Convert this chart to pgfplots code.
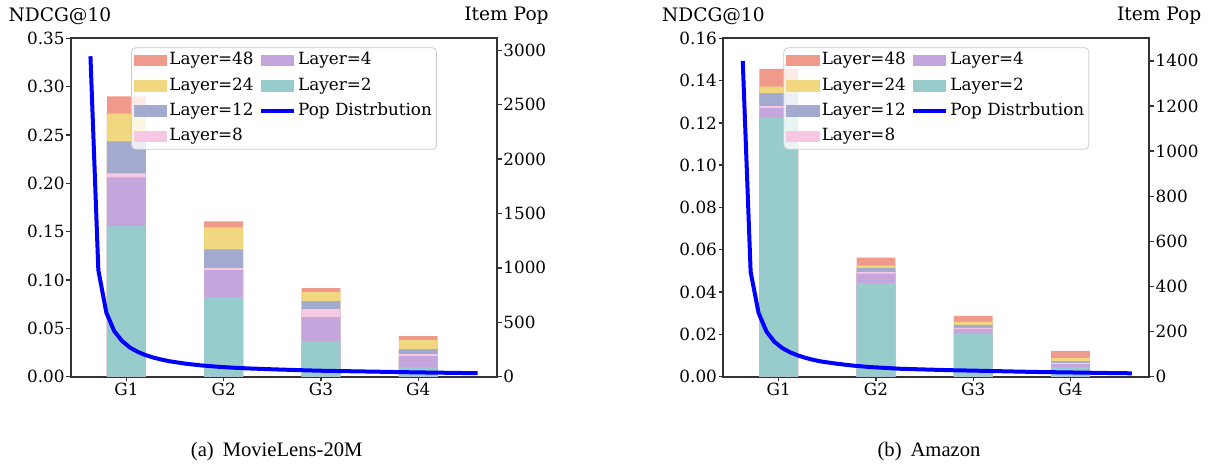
\documentclass[border=0pt]{standalone}
\usepackage{pgfplots}
\usepackage{pgfplotstable}
\pgfplotsset{compat=1.18}
\usepackage{fontspec}
\setmainfont{DejaVu Serif}
\newfontfamily\capfont{Liberation Serif}
\definecolor{c48}{HTML}{F09A8C}
\definecolor{c24}{HTML}{F1D880}
\definecolor{c12}{HTML}{A2AAD0}
\definecolor{c8}{HTML}{F6C8E4}
\definecolor{c4}{HTML}{C4A6DC}
\definecolor{c2}{HTML}{98CCCC}
\definecolor{frame}{HTML}{333333}

\pgfplotstableread{
x l48 l24 l12 l8 l4 l2
0 0.2900 0.2722 0.2433 0.2103 0.2061 0.1559
1 0.1607 0.1545 0.1318 0.1122 0.1101 0.0823
2 0.0915 0.0874 0.0781 0.0699 0.0616 0.0368
3 0.0420 0.0379 0.0286 0.0234 0.0213 0.0100
}\mlbars
\pgfplotstableread{
x l48 l24 l12 l8 l4 l2
0 0.1455 0.1372 0.1341 0.1279 0.1270 0.1222
1 0.0563 0.0525 0.0515 0.0496 0.0487 0.0443
2 0.0288 0.0259 0.0245 0.0231 0.0226 0.0203
3 0.0122 0.0088 0.0074 0.0065 0.0060 0.0045
}\azbars
\pgfplotstableread{
x y
-0.370 2945
-0.289 980
-0.207 590
-0.126 420
-0.045 328
0.036 268
0.117 228
0.198 198
0.280 175
0.361 157
0.442 142
0.605 120
0.767 104
0.930 92
1.092 83
1.254 76
1.498 68
1.742 61
1.985 55
2.310 50
2.635 45
2.960 40
3.284 36
3.610 32
}\mlpop
\pgfplotstableread{
x y
-0.370 1400
-0.289 465
-0.207 282
-0.126 200
-0.045 155
0.036 127
0.117 108
0.198 94
0.280 83
0.361 74
0.442 67
0.605 57
0.767 49
0.930 43
1.092 39
1.254 35
1.498 32
1.742 29
1.985 27
2.310 24
2.635 21
2.960 19
3.284 17
3.630 15
}\azpop

\pgfplotsset{
 base/.style={
   scale only axis, width=213pt, height=169.2pt,
   xmin=-0.57, xmax=3.81, ymin=0,
   font=\fontsize{8.4pt}{10pt}\selectfont,
   axis line style={frame, line width=0.9pt},
   tick style={frame, line width=0.7pt},
   tick align=outside, major tick length=2.4pt,
   /pgf/number format/assume math mode=true,
   yticklabel style={inner xsep=0.6pt},
   xticklabel style={inner ysep=0.6pt},
   anchor=south west,
 },
 bars/.style={base, ybar, bar width=0.4, bar shift=0pt,
   xtick={0,1,2,3}, xticklabels={G1,G2,G3,G4}, xtick pos=bottom, ytick pos=left,
   yticklabel style={/pgf/number format/.cd, fixed, fixed zerofill, precision=2},
 },
 pop/.style={base, axis y line*=right, axis x line=none, scaled y ticks=false,
   yticklabel style={/pgf/number format/1000 sep={}},
   legend columns=2, legend cell align=left,
   legend style={at={(0.5,0.973)}, anchor=north, draw=black!20, rounded corners=2pt,
     fill=white, fill opacity=0.8, text opacity=1, inner xsep=1.3pt, inner ysep=1.3pt,
     row sep=2.7pt, nodes={inner sep=1pt, text height=6.1pt, text depth=1.9pt},
     /tikz/every even column/.append style={column sep=1.6pt}},
 },
 legbar/.style={legend image code/.code={\fill[##1, fill opacity=1, draw=none, sharp corners] (0pt,-2.9pt) rectangle (16.7pt,2.9pt);}},
 legline/.style={legend image code/.code={\draw[##1, draw opacity=1, sharp corners] (0pt,0pt) -- (16.7pt,0pt);}},
}

\begin{document}
\begin{tikzpicture}
\path[use as bounding box] (0,0) rectangle (606pt,232.5pt);

% ---------- (a) MovieLens-20M ----------
\begin{axis}[bars, at={(35.5pt,44.15pt)}, ymax=0.35, ytick={0,0.05,...,0.351}]
\addplot[fill=c48, draw=none] table[x=x,y=l48]{\mlbars};
\addplot[fill=c24, draw=none] table[x=x,y=l24]{\mlbars};
\addplot[fill=c12, draw=none] table[x=x,y=l12]{\mlbars};
\addplot[fill=c8, draw=none] table[x=x,y=l8]{\mlbars};
\addplot[fill=c4, draw=none] table[x=x,y=l4]{\mlbars};
\addplot[fill=c2, draw=none] table[x=x,y=l2]{\mlbars};
\end{axis}
\begin{axis}[pop, at={(35.5pt,44.15pt)}, ymax=3110, ytick={0,500,...,3000}]
\addlegendimage{legbar, fill=c48}
\addlegendimage{legbar, fill=c4}
\addlegendimage{legbar, fill=c24}
\addlegendimage{legbar, fill=c2}
\addlegendimage{legbar, fill=c12}
\addplot[blue, line width=2pt, legline] table[x=x,y=y]{\mlpop};
\addlegendimage{legbar, fill=c8}
\legend{Layer=48, Layer=4, Layer=24, Layer=2, Layer=12, Pop Distrbution, Layer=8}
\end{axis}

% ---------- (b) Amazon ----------
\begin{axis}[bars, at={(361.65pt,44.15pt)}, ymax=0.16, ytick={0,0.02,...,0.161}]
\addplot[fill=c48, draw=none] table[x=x,y=l48]{\azbars};
\addplot[fill=c24, draw=none] table[x=x,y=l24]{\azbars};
\addplot[fill=c12, draw=none] table[x=x,y=l12]{\azbars};
\addplot[fill=c8, draw=none] table[x=x,y=l8]{\azbars};
\addplot[fill=c4, draw=none] table[x=x,y=l4]{\azbars};
\addplot[fill=c2, draw=none] table[x=x,y=l2]{\azbars};
\end{axis}
\begin{axis}[pop, at={(361.65pt,44.15pt)}, ymax=1500, ytick={0,200,...,1400}]
\addlegendimage{legbar, fill=c48}
\addlegendimage{legbar, fill=c4}
\addlegendimage{legbar, fill=c24}
\addlegendimage{legbar, fill=c2}
\addlegendimage{legbar, fill=c12}
\addplot[blue, line width=2pt, legline] table[x=x,y=y]{\azpop};
\addlegendimage{legbar, fill=c8}
\legend{Layer=48, Layer=4, Layer=24, Layer=2, Layer=12, Pop Distrbution, Layer=8}
\end{axis}

% ---------- titles ----------
\begin{scope}[every node/.style={inner sep=0pt, font=\fontsize{9.3pt}{11pt}\selectfont}]
\node[anchor=base west] at (4.15pt,221.65pt) {NDCG@10};
\node[anchor=base east] at (274.5pt,222.15pt) {Item Pop};
\node[anchor=base west] at (330.85pt,221.65pt) {NDCG@10};
\node[anchor=base east] at (600.85pt,222.15pt) {Item Pop};
\end{scope}
\node[anchor=base, inner sep=0pt, font=\capfont\fontsize{10.3pt}{12pt}\selectfont] at (138.35pt,4.15pt) {(a)\hspace{4.5pt}MovieLens-20M};
\node[anchor=base, inner sep=0pt, font=\capfont\fontsize{10.3pt}{12pt}\selectfont] at (464.5pt,4.15pt) {(b)\hspace{4.5pt}Amazon};
\end{tikzpicture}
\end{document}
